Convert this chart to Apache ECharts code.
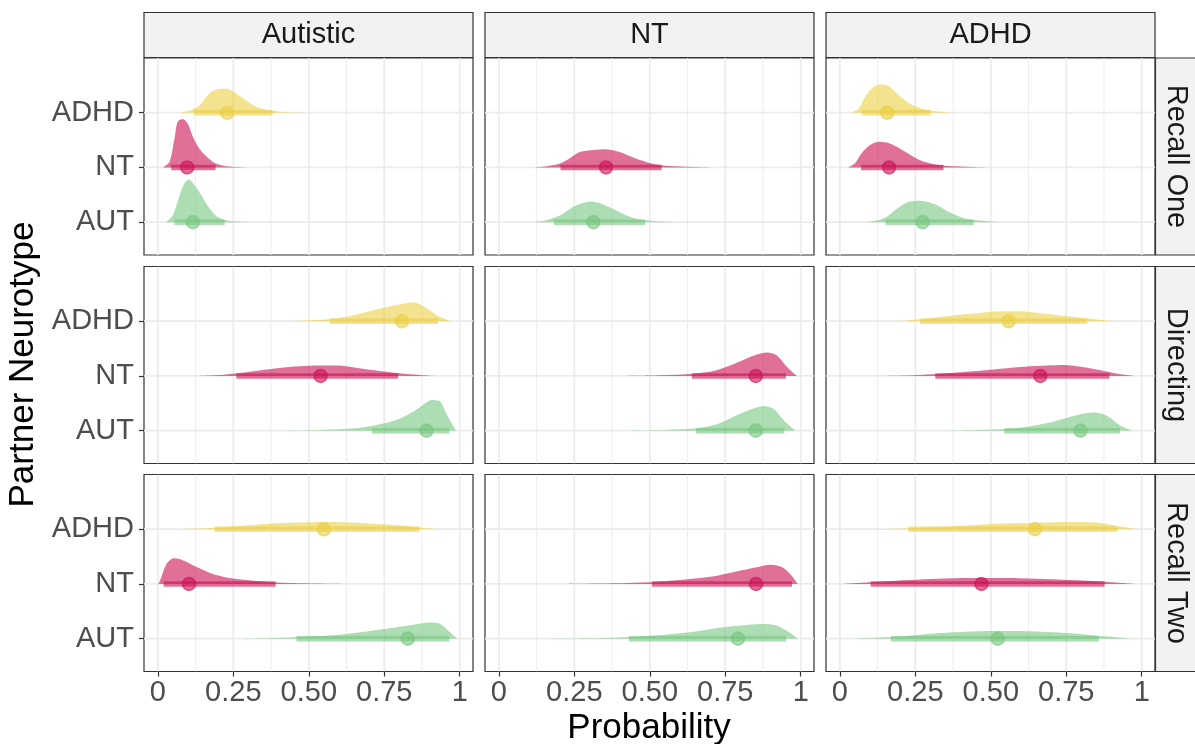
<!DOCTYPE html>
<html><head><meta charset="utf-8">
<script src="https://cdn.jsdelivr.net/npm/echarts@6/dist/echarts.min.js"></script>
<style>html,body{margin:0;padding:0;background:#fff}#c{width:1195px;height:744px}</style>
</head><body><div id="c"></div><script>
// ---------------- data ----------------
const facetCols = ['Autistic', 'NT', 'ADHD'];
const facetRows = ['Recall One', 'Directing', 'Recall Two'];
const neurotypes = ['AUT', 'NT', 'ADHD'];           // y positions 1,2,3
const xTickValues = [0, 0.25, 0.5, 0.75, 1];
const xTickLabels = ['0', '0.25', '0.50', '0.75', '1'];
const xMinorValues = [0.125, 0.375, 0.625, 0.875];
const xAxisTitle = 'Probability';
const yAxisTitle = 'Partner Neurotype';

// medians / interval bounds: [column][AUT, NT, ADHD]
const medianRecallOne = [[0.116, 0.097, 0.230], [0.313, 0.355, null], [0.274, 0.163, 0.157]];
const lowerRecallOne  = [[0.055, 0.044, 0.120], [0.182, 0.204, null], [0.151, 0.070, 0.072]];
const upperRecallOne  = [[0.221, 0.191, 0.380], [0.484, 0.539, null], [0.443, 0.343, 0.301]];
const medianDirecting = [[0.890, 0.539, 0.809], [0.851, 0.851, null], [0.797, 0.664, 0.559]];
const lowerDirecting  = [[0.709, 0.260, 0.569], [0.653, 0.639, null], [0.545, 0.316, 0.266]];
const upperDirecting  = [[0.965, 0.796, 0.928], [0.946, 0.951, null], [0.928, 0.893, 0.820]];
const medianRecallTwo = [[0.828, 0.103, 0.550], [0.792, 0.852, null], [0.523, 0.469, 0.646]];
const lowerRecallTwo  = [[0.459, 0.019, 0.188], [0.431, 0.507, null], [0.169, 0.102, 0.227]];
const upperRecallTwo  = [[0.965, 0.390, 0.867], [0.951, 0.971, null], [0.858, 0.877, 0.919]];

// density slabs: [AUT, NT, ADHD], each [[probability, density], ...]
const slabRecallOneAutistic = [
  [[0.028,0],[0.050,0.13],[0.072,0.49],[0.088,0.71],[0.103,0.78],[0.122,0.67],[0.144,0.49],[0.166,0.29],[0.194,0.11],[0.227,0.036],[0.304,0]],
  [[0.017,0],[0.039,0.11],[0.055,0.53],[0.066,0.84],[0.083,0.885],[0.099,0.80],[0.116,0.56],[0.133,0.38],[0.155,0.23],[0.188,0.08],[0.227,0.024],[0.304,0]],
  [[0.072,0],[0.105,0.04],[0.138,0.13],[0.160,0.29],[0.182,0.40],[0.205,0.44],[0.232,0.44],[0.260,0.35],[0.293,0.22],[0.326,0.11],[0.370,0.045],[0.414,0.013],[0.492,0]]
];
const slabRecallOneNT = [
  [[0.114,0],[0.158,0.036],[0.202,0.12],[0.235,0.24],[0.268,0.33],[0.302,0.376],[0.335,0.345],[0.379,0.24],[0.423,0.12],[0.467,0.05],[0.523,0.018],[0.600,0]],
  [[0.114,0],[0.158,0.024],[0.202,0.073],[0.235,0.17],[0.268,0.28],[0.313,0.32],[0.357,0.333],[0.401,0.28],[0.445,0.18],[0.490,0.097],[0.545,0.036],[0.622,0.013],[0.710,0]],
  null
];
const slabRecallOneADHD = [
  [[0.083,0],[0.122,0.03],[0.155,0.10],[0.188,0.24],[0.222,0.36],[0.255,0.39],[0.288,0.375],[0.321,0.315],[0.365,0.175],[0.410,0.073],[0.465,0.03],[0.532,0]],
  [[0.028,0],[0.050,0.078],[0.072,0.26],[0.100,0.41],[0.127,0.47],[0.155,0.455],[0.188,0.38],[0.222,0.27],[0.266,0.13],[0.321,0.05],[0.399,0.018],[0.487,0]],
  [[0.039,0],[0.061,0.073],[0.083,0.285],[0.105,0.44],[0.127,0.515],[0.150,0.515],[0.172,0.44],[0.199,0.30],[0.233,0.16],[0.266,0.085],[0.310,0.03],[0.377,0]]
];
const slabDirectingAutistic = [
  [[0.414,0],[0.547,0.013],[0.658,0.042],[0.735,0.115],[0.801,0.22],[0.845,0.345],[0.878,0.47],[0.906,0.56],[0.934,0.54],[0.956,0.31],[0.987,0]],
  [[0.127,0],[0.205,0.018],[0.271,0.055],[0.337,0.10],[0.403,0.145],[0.469,0.176],[0.536,0.19],[0.602,0.19],[0.668,0.14],[0.735,0.09],[0.801,0.05],[0.867,0.018],[0.923,0]],
  [[0.403,0],[0.492,0.013],[0.558,0.03],[0.624,0.08],[0.691,0.17],[0.757,0.26],[0.812,0.32],[0.851,0.34],[0.890,0.24],[0.928,0.097],[0.972,0]]
];
const slabDirectingNT = [
  [[0.423,0],[0.556,0.013],[0.655,0.042],[0.722,0.115],[0.777,0.255],[0.821,0.36],[0.876,0.45],[0.910,0.395],[0.943,0.195],[0.981,0]],
  [[0.412,0],[0.534,0.013],[0.644,0.042],[0.710,0.09],[0.766,0.19],[0.810,0.29],[0.854,0.39],[0.887,0.43],[0.920,0.38],[0.954,0.17],[0.987,0]],
  null
];
const slabDirectingADHD = [
  [[0.354,0],[0.465,0.013],[0.554,0.03],[0.620,0.073],[0.687,0.14],[0.742,0.22],[0.797,0.30],[0.842,0.33],[0.886,0.27],[0.930,0.09],[0.969,0]],
  [[0.144,0],[0.244,0.013],[0.332,0.042],[0.421,0.078],[0.509,0.12],[0.598,0.165],[0.687,0.19],[0.742,0.20],[0.808,0.16],[0.875,0.09],[0.930,0.03],[0.974,0]],
  [[0.155,0],[0.222,0.013],[0.288,0.05],[0.354,0.09],[0.421,0.13],[0.487,0.165],[0.554,0.18],[0.620,0.175],[0.687,0.13],[0.753,0.09],[0.820,0.05],[0.886,0.013],[0.930,0]]
];
const slabRecallTwoAutistic = [
  [[0.271,0],[0.381,0.013],[0.492,0.036],[0.602,0.073],[0.691,0.133],[0.779,0.20],[0.845,0.255],[0.900,0.296],[0.934,0.273],[0.967,0.12],[0.991,0]],
  [[0.002,0],[0.011,0.12],[0.028,0.36],[0.050,0.47],[0.072,0.455],[0.105,0.375],[0.138,0.285],[0.182,0.18],[0.227,0.12],[0.293,0.073],[0.359,0.042],[0.437,0.018],[0.624,0]],
  [[0.028,0],[0.160,0.018],[0.271,0.06],[0.381,0.104],[0.492,0.127],[0.569,0.133],[0.658,0.12],[0.746,0.09],[0.823,0.06],[0.890,0.018],[0.945,0]]
];
const slabRecallTwoNT = [
  [[0.15,0],[0.35,0.013],[0.45,0.036],[0.55,0.07],[0.65,0.13],[0.72,0.19],[0.80,0.24],[0.87,0.27],[0.92,0.24],[0.96,0.12],[0.99,0]],
  [[0.20,0],[0.40,0.013],[0.50,0.03],[0.60,0.07],[0.70,0.13],[0.78,0.22],[0.85,0.30],[0.90,0.35],[0.94,0.30],[0.97,0.15],[0.99,0]],
  null
];
const slabRecallTwoADHD = [
  [[0.055,0],[0.155,0.024],[0.266,0.073],[0.377,0.115],[0.487,0.14],[0.598,0.14],[0.709,0.115],[0.819,0.073],[0.908,0.03],[0.963,0]],
  [[0.011,0],[0.100,0.03],[0.210,0.067],[0.321,0.097],[0.432,0.11],[0.543,0.11],[0.654,0.097],[0.764,0.073],[0.875,0.042],[0.980,0]],
  [[0.100,0],[0.210,0.013],[0.321,0.036],[0.432,0.073],[0.543,0.104],[0.654,0.12],[0.764,0.133],[0.842,0.127],[0.908,0.073],[0.963,0.018],[0.997,0]]
];

// ---------------- assembly ----------------
const slabs = [
  [slabRecallOneAutistic, slabRecallOneNT, slabRecallOneADHD],
  [slabDirectingAutistic, slabDirectingNT, slabDirectingADHD],
  [slabRecallTwoAutistic, slabRecallTwoNT, slabRecallTwoADHD]
];
const medians = [medianRecallOne, medianDirecting, medianRecallTwo];
const lowers = [lowerRecallOne, lowerDirecting, lowerRecallTwo];
const uppers = [upperRecallOne, upperDirecting, upperRecallTwo];

const colors = ['#76C67F', '#CB1153', '#EBCF43'];   // AUT, NT, ADHD
const ALPHA = 0.6;
function rgba(hex, a) {
  const n = parseInt(hex.slice(1), 16);
  return 'rgba(' + (n >> 16) + ',' + ((n >> 8) & 255) + ',' + (n & 255) + ',' + a + ')';
}
const FONT = '"Liberation Sans", Arial, sans-serif';
const X_MIN = -0.046, X_MAX = 1.044, Y_MIN = 0.4, Y_MAX = 4.0;
const colLeft = [144, 485, 826];
const rowTop = [58, 266.5, 474.5];
const panelW = 329, panelH = 197;

const grids = [], xAxes = [], yAxes = [], series = [];
function nearestLabel(v) {
  for (let i = 0; i < xTickValues.length; i++) if (Math.abs(xTickValues[i] - v) < 1e-6) return xTickLabels[i];
  return '';
}

for (let r = 0; r < 3; r++) {
  for (let c = 0; c < 3; c++) {
    const g = r * 3 + c;
    grids.push({ left: colLeft[c], top: rowTop[r], width: panelW, height: panelH, show: true,
      borderColor: '#333333', borderWidth: 1.2, backgroundColor: '#fff', containLabel: false });
    xAxes.push({ type: 'value', gridIndex: g, min: X_MIN, max: X_MAX, position: 'bottom',
      axisLine: { show: false, onZero: false }, splitLine: { show: false },
      axisTick: { show: r === 2, customValues: xTickValues, length: 5, lineStyle: { color: '#333', width: 1.2 } },
      axisLabel: { show: r === 2, customValues: xTickValues, formatter: v => nearestLabel(v),
        fontSize: 29, color: '#4D4D4D', margin: 7, fontFamily: FONT } });
    yAxes.push({ type: 'value', gridIndex: g, min: Y_MIN, max: Y_MAX, position: 'left',
      axisLine: { show: false, onZero: false }, splitLine: { show: false },
      axisTick: { show: c === 0, customValues: [1, 2, 3], length: 5, lineStyle: { color: '#333', width: 1.2 } },
      axisLabel: { show: c === 0, customValues: [1, 2, 3], formatter: v => neurotypes[Math.round(v) - 1],
        fontSize: 29, color: '#4D4D4D', margin: 10, fontFamily: FONT } });

    // grid lines
    const lines = [];
    xMinorValues.forEach(v => lines.push([v, 1, 1]));
    xTickValues.forEach(v => lines.push([v, 1, 0]));
    [1, 2, 3].forEach(v => lines.push([0.5, v, 2]));
    series.push({ type: 'custom', xAxisIndex: g, yAxisIndex: g, silent: true, z: 1, clip: true,
      data: lines, encode: { x: 0, y: 1 },
      renderItem: (params, api) => {
        const kind = api.value(2);
        let p1, p2;
        if (kind === 2) { p1 = api.coord([X_MIN, api.value(1)]); p2 = api.coord([X_MAX, api.value(1)]); }
        else { p1 = api.coord([api.value(0), Y_MIN]); p2 = api.coord([api.value(0), Y_MAX]); }
        return { type: 'line', shape: { x1: p1[0], y1: p1[1], x2: p2[0], y2: p2[1] },
          style: { stroke: '#EBEBEB', lineWidth: kind === 1 ? 0.9 : 1.7 } };
      } });

    const present = [0, 1, 2].filter(k => slabs[r][c][k]);
    // slabs
    series.push({ type: 'custom', xAxisIndex: g, yAxisIndex: g, silent: true, z: 2, clip: true,
      data: present.map(k => [medians[r][c][k], k + 1, k]), encode: { x: 0, y: 1 },
      renderItem: (params, api) => {
        const k = api.value(2);
        const pts = slabs[r][c][k];
        const base = k + 1;
        const poly = pts.map(p => api.coord([p[0], base + p[1]]));
        let minX = Infinity, maxX = -Infinity, minY = Infinity, maxY = -Infinity;
        poly.forEach(p => { minX = Math.min(minX, p[0]); maxX = Math.max(maxX, p[0]);
          minY = Math.min(minY, p[1]); maxY = Math.max(maxY, p[1]); });
        return { type: 'polygon',
          shape: { points: poly, smooth: 0.3, smoothConstraint: [[minX, minY], [maxX, maxY]] },
          style: { fill: rgba(colors[k], ALPHA) } };
      } });
    // intervals
    series.push({ type: 'custom', xAxisIndex: g, yAxisIndex: g, silent: true, z: 3, clip: true,
      data: present.map(k => [lowers[r][c][k], k + 1, uppers[r][c][k], k]), encode: { x: 0, y: 1 },
      renderItem: (params, api) => {
        const k = api.value(3);
        const p1 = api.coord([api.value(0), k + 1]);
        const p2 = api.coord([api.value(2), k + 1]);
        return { type: 'line', shape: { x1: p1[0], y1: p1[1], x2: p2[0], y2: p2[1] },
          style: { stroke: rgba(colors[k], ALPHA), lineWidth: 5.5, lineCap: 'butt' } };
      } });
    // points
    series.push({ type: 'scatter', xAxisIndex: g, yAxisIndex: g, silent: true, z: 4,
      symbolSize: 13,
      data: present.map(k => ({ value: [medians[r][c][k], k + 1],
        itemStyle: { color: colors[k], borderColor: colors[k], borderWidth: 1.6, opacity: ALPHA } })) });
  }
}

// strips and titles
const graphics = [];
for (let c = 0; c < 3; c++) {
  graphics.push({ type: 'rect', shape: { x: colLeft[c], y: 12.5, width: panelW, height: 45 },
    style: { fill: '#F2F2F2', stroke: '#333333', lineWidth: 1.2 }, z: 10 });
  graphics.push({ type: 'text', x: colLeft[c] + panelW / 2, y: 35, z: 11,
    style: { text: facetCols[c], fill: '#1A1A1A', font: '29px ' + FONT, align: 'center', verticalAlign: 'middle' } });
}
for (let r = 0; r < 3; r++) {
  graphics.push({ type: 'rect', shape: { x: 1155.5, y: rowTop[r], width: 50, height: panelH },
    style: { fill: '#F2F2F2', stroke: '#333333', lineWidth: 1.2 }, z: 10 });
  graphics.push({ type: 'text', x: 1176, y: rowTop[r] + panelH / 2, rotation: -Math.PI / 2, z: 11,
    style: { text: facetRows[r], fill: '#1A1A1A', font: '29px ' + FONT, align: 'center', verticalAlign: 'middle' } });
}
graphics.push({ type: 'text', x: 649, y: 728, z: 11,
  style: { text: xAxisTitle, fill: '#000', font: '35px ' + FONT, align: 'center', verticalAlign: 'middle' } });
graphics.push({ type: 'text', x: 23, y: 364.5, rotation: Math.PI / 2, z: 11,
  style: { text: yAxisTitle, fill: '#000', font: '35px ' + FONT, align: 'center', verticalAlign: 'middle' } });

const chart = echarts.init(document.getElementById('c'), null, { renderer: 'canvas' });
chart.setOption({
  animation: false,
  backgroundColor: '#fff',
  grid: grids, xAxis: xAxes, yAxis: yAxes, series: series, graphic: graphics
});
</script></body></html>
